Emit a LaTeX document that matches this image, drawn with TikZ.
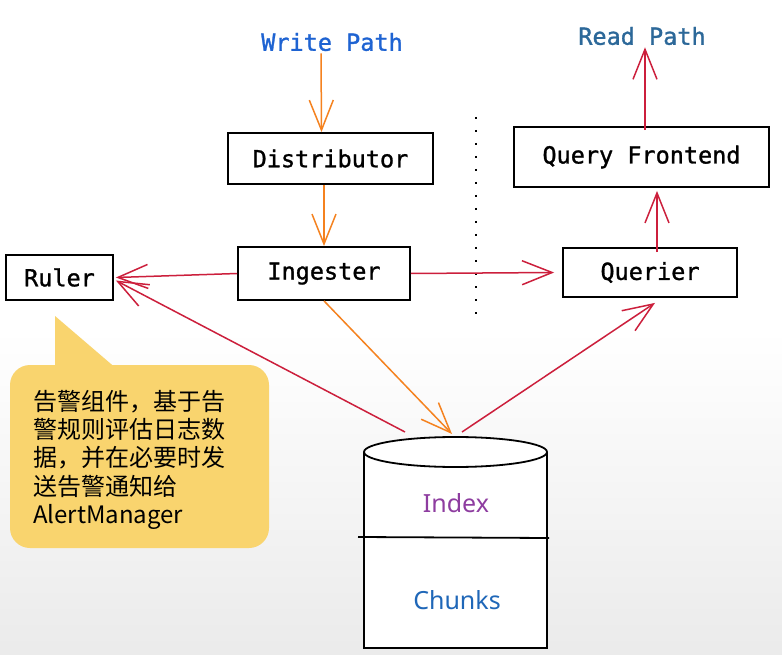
\documentclass[tikz,border=0pt]{standalone}
\usepackage{fontspec}
\setmonofont{DejaVu Sans Mono}[FakeBold=1.2]
\newfontfamily\cjk{Noto Sans CJK SC}
\newfontfamily\lblsans{Noto Sans}
\usetikzlibrary{arrows.meta,calc}
\definecolor{redline}{HTML}{CC1F3C}
\definecolor{orangeline}{HTML}{F5821F}
\definecolor{noteyellow}{HTML}{F9D46E}
\definecolor{writeblue}{HTML}{1E63D2}
\definecolor{readblue}{HTML}{2C6899}
\definecolor{idxpurple}{HTML}{8E3DA0}
\definecolor{chunkblue}{HTML}{1F67B8}
\tikzset{
  compbox/.style={draw=black, line width=1.8pt, fill=white, inner sep=0pt,
    font=\ttfamily\fontsize{23.5}{27}\selectfont},
  pathlabel/.style={inner sep=2pt, font=\ttfamily\fontsize{23.5}{27}\selectfont},
  barb/.style={-{Straight Barb[length=30pt,width=24pt]}, line width=1.5pt},
  redarrow/.style={barb, draw=redline},
  orangearrow/.style={barb, draw=orangeline},
  dbline/.style={draw=black, line width=1.8pt},
}
\begin{document}
\begin{tikzpicture}[x=1pt,y=-1pt]
\fill[white] (0,0) rectangle (782,655);
\shade[top color=white, bottom color=black!8] (0,330) rectangle (782,655);
\useasboundingbox (0,0) rectangle (782,655);

% labels
\node[pathlabel, text=writeblue] (wp) at (332,42) {Write Path};
\node[pathlabel, text=readblue] (rp) at (642,36) {Read Path};

% boxes
\node[compbox, minimum width=205pt, minimum height=51pt] (dist) at (330.5,158.5) {Distributor};
\node[compbox, minimum width=172pt, minimum height=53pt] (ing) at (324,273.5) {Ingester};
\node[compbox, minimum width=107pt, minimum height=45pt] (ruler) at (59.5,277.5) {Ruler};
\node[compbox, minimum width=255pt, minimum height=60pt] (qf) at (641.5,157) {Query Frontend};
\node[compbox, minimum width=174pt, minimum height=49pt] (querier) at (650,272.5) {Querier};

% dotted separator
\coordinate (septop) at (476,117);
\coordinate (sepbot) at (476,318);
\draw[line width=2pt, dash pattern=on 2pt off 11pt] (septop) -- (sepbot);

% database cylinder
\draw[dbline, fill=white] (364,452) -- (364,648) -- (547,648) -- (547,452);
\draw[dbline, fill=white] (455.5,452) ellipse [x radius=91.5, y radius=15];
\draw[dbline] (358,537) -- (549,538);
\node[text=idxpurple, font=\lblsans\fontsize{25}{29}\selectfont] (idx) at (456,503) {Index};
\node[text=chunkblue, font=\lblsans\fontsize{25}{29}\selectfont] (chk) at (457,600) {Chunks};
\coordinate (dbl) at (405,432);
\coordinate (dbm) at (452,434);
\coordinate (dbr) at (462,432);

% callout
\fill[noteyellow, rounded corners=20pt] (10,365) rectangle (269,548);
\fill[noteyellow] (55,316) -- (55,370) -- (118,370) -- cycle;
\node[anchor=north west, inner sep=0pt, align=left,
      font=\cjk\fontsize{24}{28.2}\selectfont] (note) at (33,390)
  {告警组件，基于告\\警规则评估日志数\\据，并在必要时发\\送告警通知给\\AlertManager};

% connectors
\draw[orangearrow] ([xshift=-11pt]wp.south) -- ([xshift=-9pt]dist.north);
\draw[orangearrow] (dist.south -| ing.north) -- (ing.north);
\draw[orangearrow] (ing.south) -- (dbm);
\draw[redarrow] (ing.west) -- ([xshift=2pt]ruler.east);
\draw[redarrow] (dbl) -- ([xshift=2pt,yshift=-3pt]ruler.east);
\draw[redarrow] (ing.east) -- ([xshift=-8pt]querier.west);
\draw[redarrow] (dbr) -- ([xshift=5pt,yshift=-5pt]querier.south);
\draw[redarrow] ([xshift=7pt,yshift=-5pt]querier.north) -- ([xshift=7pt,yshift=-3pt]querier.north |- qf.south);
\draw[redarrow] ([xshift=3.5pt,yshift=-4pt]qf.north) -- ([xshift=3.5pt]qf.north |- rp.south);
\end{tikzpicture}
\end{document}
